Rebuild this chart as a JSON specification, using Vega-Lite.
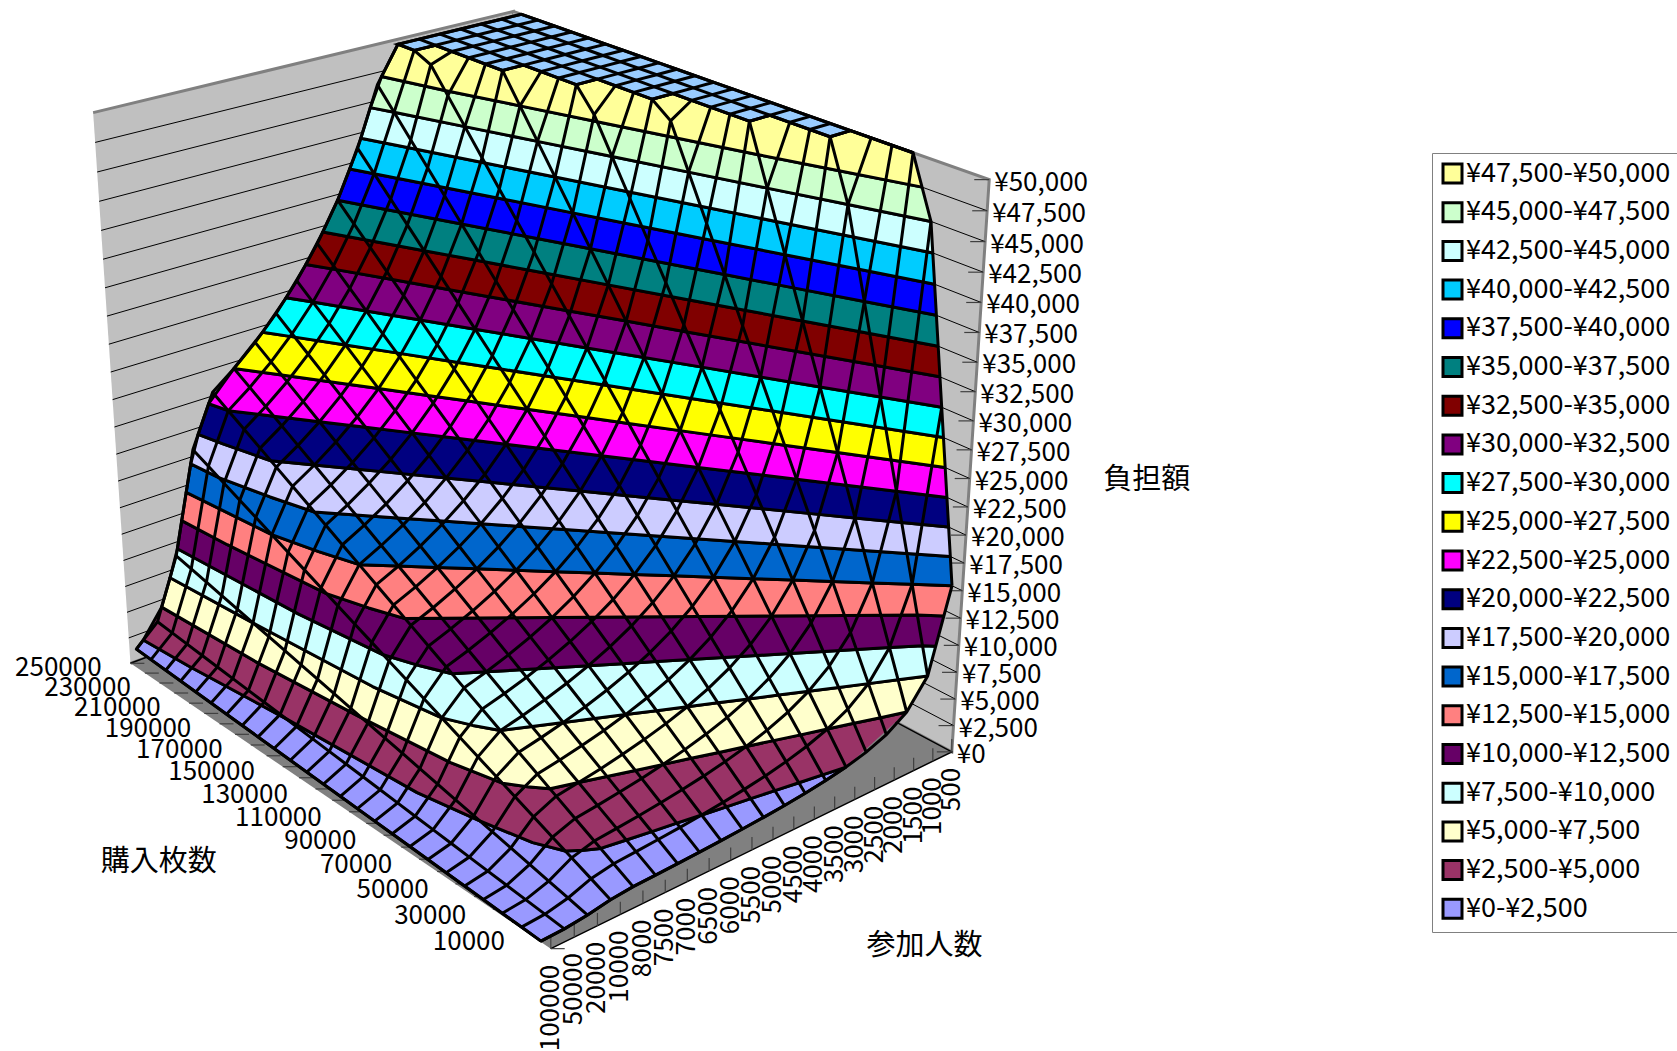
{"$schema":"https://vega.github.io/schema/vega-lite/v6.json","width":1677,"height":1051,"autosize":{"type":"none"},"padding":0,"background":"white","config":{"view":{"stroke":null},"text":{"font":"Noto Sans CJK JP","fontSize":26,"fill":"black"}},
"datasets":{
"walls":[{"panel":"left","corner":1,"col":0,"row":24.5,"burden":0},{"panel":"left","corner":2,"col":19,"row":24.5,"burden":0},{"panel":"left","corner":3,"col":19,"row":24.5,"burden":50000},{"panel":"left","corner":4,"col":0,"row":24.5,"burden":50000},{"panel":"right","corner":1,"col":19,"row":24.5,"burden":0},{"panel":"right","corner":2,"col":19,"row":-0.5,"burden":0},{"panel":"right","corner":3,"col":19,"row":-0.5,"burden":50000},{"panel":"right","corner":4,"col":19,"row":24.5,"burden":50000},{"panel":"floor","corner":1,"col":0,"row":-0.5,"burden":0},{"panel":"floor","corner":2,"col":19,"row":-0.5,"burden":0},{"panel":"floor","corner":3,"col":19,"row":24.5,"burden":0},{"panel":"floor","corner":4,"col":0,"row":24.5,"burden":0}],
"grid":[{"burden":0,"col":0,"row":24.5},{"burden":0,"col":19,"row":24.5},{"burden":0,"col":19,"row":-0.5},{"burden":2500,"col":0,"row":24.5},{"burden":2500,"col":19,"row":24.5},{"burden":2500,"col":19,"row":-0.5},{"burden":5000,"col":0,"row":24.5},{"burden":5000,"col":19,"row":24.5},{"burden":5000,"col":19,"row":-0.5},{"burden":7500,"col":0,"row":24.5},{"burden":7500,"col":19,"row":24.5},{"burden":7500,"col":19,"row":-0.5},{"burden":10000,"col":0,"row":24.5},{"burden":10000,"col":19,"row":24.5},{"burden":10000,"col":19,"row":-0.5},{"burden":12500,"col":0,"row":24.5},{"burden":12500,"col":19,"row":24.5},{"burden":12500,"col":19,"row":-0.5},{"burden":15000,"col":0,"row":24.5},{"burden":15000,"col":19,"row":24.5},{"burden":15000,"col":19,"row":-0.5},{"burden":17500,"col":0,"row":24.5},{"burden":17500,"col":19,"row":24.5},{"burden":17500,"col":19,"row":-0.5},{"burden":20000,"col":0,"row":24.5},{"burden":20000,"col":19,"row":24.5},{"burden":20000,"col":19,"row":-0.5},{"burden":22500,"col":0,"row":24.5},{"burden":22500,"col":19,"row":24.5},{"burden":22500,"col":19,"row":-0.5},{"burden":25000,"col":0,"row":24.5},{"burden":25000,"col":19,"row":24.5},{"burden":25000,"col":19,"row":-0.5},{"burden":27500,"col":0,"row":24.5},{"burden":27500,"col":19,"row":24.5},{"burden":27500,"col":19,"row":-0.5},{"burden":30000,"col":0,"row":24.5},{"burden":30000,"col":19,"row":24.5},{"burden":30000,"col":19,"row":-0.5},{"burden":32500,"col":0,"row":24.5},{"burden":32500,"col":19,"row":24.5},{"burden":32500,"col":19,"row":-0.5},{"burden":35000,"col":0,"row":24.5},{"burden":35000,"col":19,"row":24.5},{"burden":35000,"col":19,"row":-0.5},{"burden":37500,"col":0,"row":24.5},{"burden":37500,"col":19,"row":24.5},{"burden":37500,"col":19,"row":-0.5},{"burden":40000,"col":0,"row":24.5},{"burden":40000,"col":19,"row":24.5},{"burden":40000,"col":19,"row":-0.5},{"burden":42500,"col":0,"row":24.5},{"burden":42500,"col":19,"row":24.5},{"burden":42500,"col":19,"row":-0.5},{"burden":45000,"col":0,"row":24.5},{"burden":45000,"col":19,"row":24.5},{"burden":45000,"col":19,"row":-0.5},{"burden":47500,"col":0,"row":24.5},{"burden":47500,"col":19,"row":24.5},{"burden":47500,"col":19,"row":-0.5},{"burden":50000,"col":0,"row":24.5},{"burden":50000,"col":19,"row":24.5},{"burden":50000,"col":19,"row":-0.5}],
"sideTicks":[{"col":0,"row":-0.5,"burden":0},{"col":0,"row":0.5,"burden":0},{"col":0,"row":1.5,"burden":0},{"col":0,"row":2.5,"burden":0},{"col":0,"row":3.5,"burden":0},{"col":0,"row":4.5,"burden":0},{"col":0,"row":5.5,"burden":0},{"col":0,"row":6.5,"burden":0},{"col":0,"row":7.5,"burden":0},{"col":0,"row":8.5,"burden":0},{"col":0,"row":9.5,"burden":0},{"col":0,"row":10.5,"burden":0},{"col":0,"row":11.5,"burden":0},{"col":0,"row":12.5,"burden":0},{"col":0,"row":13.5,"burden":0},{"col":0,"row":14.5,"burden":0},{"col":0,"row":15.5,"burden":0},{"col":0,"row":16.5,"burden":0},{"col":0,"row":17.5,"burden":0},{"col":0,"row":18.5,"burden":0},{"col":0,"row":19.5,"burden":0},{"col":0,"row":20.5,"burden":0},{"col":0,"row":21.5,"burden":0},{"col":0,"row":22.5,"burden":0},{"col":0,"row":23.5,"burden":0},{"col":0,"row":24.5,"burden":0}],
"front":[{"label":"100000","col":0,"row":-0.5,"burden":0},{"label":"50000","col":1,"row":-0.5,"burden":0},{"label":"20000","col":2,"row":-0.5,"burden":0},{"label":"10000","col":3,"row":-0.5,"burden":0},{"label":"8000","col":4,"row":-0.5,"burden":0},{"label":"7500","col":5,"row":-0.5,"burden":0},{"label":"7000","col":6,"row":-0.5,"burden":0},{"label":"6500","col":7,"row":-0.5,"burden":0},{"label":"6000","col":8,"row":-0.5,"burden":0},{"label":"5500","col":9,"row":-0.5,"burden":0},{"label":"5000","col":10,"row":-0.5,"burden":0},{"label":"4500","col":11,"row":-0.5,"burden":0},{"label":"4000","col":12,"row":-0.5,"burden":0},{"label":"3500","col":13,"row":-0.5,"burden":0},{"label":"3000","col":14,"row":-0.5,"burden":0},{"label":"2500","col":15,"row":-0.5,"burden":0},{"label":"2000","col":16,"row":-0.5,"burden":0},{"label":"1500","col":17,"row":-0.5,"burden":0},{"label":"1000","col":18,"row":-0.5,"burden":0},{"label":"500","col":19,"row":-0.5,"burden":0}],
"side":[{"label":"250000","col":0,"row":24,"burden":0},{"label":"230000","col":0,"row":22,"burden":0},{"label":"210000","col":0,"row":20,"burden":0},{"label":"190000","col":0,"row":18,"burden":0},{"label":"170000","col":0,"row":16,"burden":0},{"label":"150000","col":0,"row":14,"burden":0},{"label":"130000","col":0,"row":12,"burden":0},{"label":"110000","col":0,"row":10,"burden":0},{"label":"90000","col":0,"row":8,"burden":0},{"label":"70000","col":0,"row":6,"burden":0},{"label":"50000","col":0,"row":4,"burden":0},{"label":"30000","col":0,"row":2,"burden":0},{"label":"10000","col":0,"row":0,"burden":0}],
"contours":[
{"iso":0,"col":0,"row":24,"burden":1875},{"iso":0,"col":0,"row":0,"burden":75},{"iso":0,"col":1,"row":0,"burden":150},{"iso":0,"col":2,"row":0,"burden":375},{"iso":0,"col":3,"row":0,"burden":750},{"iso":0,"col":4,"row":0,"burden":938},{"iso":0,"col":5,"row":0,"burden":1000},{"iso":0,"col":6,"row":0,"burden":1071},{"iso":0,"col":7,"row":0,"burden":1154},{"iso":0,"col":8,"row":0,"burden":1250},{"iso":0,"col":9,"row":0,"burden":1364},{"iso":0,"col":10,"row":0,"burden":1500},{"iso":0,"col":11,"row":0,"burden":1667},{"iso":0,"col":12,"row":0,"burden":1875},{"iso":0,"col":13,"row":0,"burden":2143},{"iso":0,"col":14,"row":0,"burden":2500},
{"iso":2500,"col":0.33,"row":24},{"iso":2500,"col":0.5,"row":21.22},{"iso":2500,"col":1,"row":15.67},{"iso":2500,"col":1.5,"row":8.52},{"iso":2500,"col":2,"row":5.67},{"iso":2500,"col":2.5,"row":3.44},{"iso":2500,"col":3,"row":2.33},{"iso":2500,"col":3.5,"row":1.96},{"iso":2500,"col":4,"row":1.67},{"iso":2500,"col":5,"row":1.5},{"iso":2500,"col":6,"row":1.33},{"iso":2500,"col":7,"row":1.17},{"iso":2500,"col":8,"row":1},{"iso":2500,"col":9,"row":0.83},{"iso":2500,"col":10,"row":0.67},{"iso":2500,"col":11,"row":0.5},{"iso":2500,"col":12,"row":0.33},{"iso":2500,"col":13,"row":0.17},{"iso":2500,"col":14,"row":0},
{"iso":5000,"col":1.22,"row":24},{"iso":5000,"col":1.5,"row":18.05},{"iso":5000,"col":2,"row":12.33},{"iso":5000,"col":2.5,"row":7.89},{"iso":5000,"col":3,"row":5.67},{"iso":5000,"col":3.5,"row":4.93},{"iso":5000,"col":4,"row":4.33},{"iso":5000,"col":5,"row":4},{"iso":5000,"col":6,"row":3.67},{"iso":5000,"col":7,"row":3.33},{"iso":5000,"col":8,"row":3},{"iso":5000,"col":9,"row":2.67},{"iso":5000,"col":10,"row":2.33},{"iso":5000,"col":11,"row":2},{"iso":5000,"col":12,"row":1.67},{"iso":5000,"col":13,"row":1.33},{"iso":5000,"col":14,"row":1},{"iso":5000,"col":15,"row":0.67},{"iso":5000,"col":16,"row":0.33},{"iso":5000,"col":17,"row":0},
{"iso":7500,"col":1.67,"row":24},{"iso":7500,"col":2,"row":19},{"iso":7500,"col":2.5,"row":12.33},{"iso":7500,"col":3,"row":9},{"iso":7500,"col":3.5,"row":7.89},{"iso":7500,"col":4,"row":7},{"iso":7500,"col":5,"row":6.5},{"iso":7500,"col":6,"row":6},{"iso":7500,"col":7,"row":5.5},{"iso":7500,"col":8,"row":5},{"iso":7500,"col":9,"row":4.5},{"iso":7500,"col":10,"row":4},{"iso":7500,"col":11,"row":3.5},{"iso":7500,"col":12,"row":3},{"iso":7500,"col":13,"row":2.5},{"iso":7500,"col":14,"row":2},{"iso":7500,"col":15,"row":1.5},{"iso":7500,"col":16,"row":1},{"iso":7500,"col":17,"row":0.5},{"iso":7500,"col":18,"row":0},
{"iso":10000,"col":2.07,"row":24},{"iso":10000,"col":2.5,"row":16.78},{"iso":10000,"col":3,"row":12.33},{"iso":10000,"col":3.5,"row":10.85},{"iso":10000,"col":4,"row":9.67},{"iso":10000,"col":5,"row":9},{"iso":10000,"col":6,"row":8.33},{"iso":10000,"col":7,"row":7.67},{"iso":10000,"col":8,"row":7},{"iso":10000,"col":9,"row":6.33},{"iso":10000,"col":10,"row":5.67},{"iso":10000,"col":11,"row":5},{"iso":10000,"col":12,"row":4.33},{"iso":10000,"col":13,"row":3.67},{"iso":10000,"col":14,"row":3},{"iso":10000,"col":15,"row":2.33},{"iso":10000,"col":16,"row":1.67},{"iso":10000,"col":17,"row":1},{"iso":10000,"col":18,"row":0.33},{"iso":10000,"col":18.33,"row":0},
{"iso":12500,"col":2.33,"row":24},{"iso":12500,"col":2.5,"row":21.22},{"iso":12500,"col":3,"row":15.67},{"iso":12500,"col":3.5,"row":13.81},{"iso":12500,"col":4,"row":12.33},{"iso":12500,"col":5,"row":11.5},{"iso":12500,"col":6,"row":10.67},{"iso":12500,"col":7,"row":9.83},{"iso":12500,"col":8,"row":9},{"iso":12500,"col":9,"row":8.17},{"iso":12500,"col":10,"row":7.33},{"iso":12500,"col":11,"row":6.5},{"iso":12500,"col":12,"row":5.67},{"iso":12500,"col":13,"row":4.83},{"iso":12500,"col":14,"row":4},{"iso":12500,"col":15,"row":3.17},{"iso":12500,"col":16,"row":2.33},{"iso":12500,"col":17,"row":1.5},{"iso":12500,"col":18,"row":0.67},{"iso":12500,"col":18.67,"row":0},
{"iso":15000,"col":2.6,"row":24},{"iso":15000,"col":3,"row":19},{"iso":15000,"col":3.5,"row":16.78},{"iso":15000,"col":4,"row":15},{"iso":15000,"col":5,"row":14},{"iso":15000,"col":6,"row":13},{"iso":15000,"col":7,"row":12},{"iso":15000,"col":8,"row":11},{"iso":15000,"col":9,"row":10},{"iso":15000,"col":10,"row":9},{"iso":15000,"col":11,"row":8},{"iso":15000,"col":12,"row":7},{"iso":15000,"col":13,"row":6},{"iso":15000,"col":14,"row":5},{"iso":15000,"col":15,"row":4},{"iso":15000,"col":16,"row":3},{"iso":15000,"col":17,"row":2},{"iso":15000,"col":18,"row":1},{"iso":15000,"col":19,"row":0},
{"iso":17500,"col":2.87,"row":24},{"iso":17500,"col":3,"row":22.33},{"iso":17500,"col":3.5,"row":19.74},{"iso":17500,"col":4,"row":17.67},{"iso":17500,"col":5,"row":16.5},{"iso":17500,"col":6,"row":15.33},{"iso":17500,"col":7,"row":14.17},{"iso":17500,"col":8,"row":13},{"iso":17500,"col":9,"row":11.83},{"iso":17500,"col":10,"row":10.67},{"iso":17500,"col":11,"row":9.5},{"iso":17500,"col":12,"row":8.33},{"iso":17500,"col":13,"row":7.17},{"iso":17500,"col":14,"row":6},{"iso":17500,"col":15,"row":4.83},{"iso":17500,"col":16,"row":3.67},{"iso":17500,"col":17,"row":2.5},{"iso":17500,"col":18,"row":1.33},{"iso":17500,"col":19,"row":0.17},
{"iso":20000,"col":3.27,"row":24},{"iso":20000,"col":3.5,"row":22.7},{"iso":20000,"col":4,"row":20.33},{"iso":20000,"col":5,"row":19},{"iso":20000,"col":6,"row":17.67},{"iso":20000,"col":7,"row":16.33},{"iso":20000,"col":8,"row":15},{"iso":20000,"col":9,"row":13.67},{"iso":20000,"col":10,"row":12.33},{"iso":20000,"col":11,"row":11},{"iso":20000,"col":12,"row":9.67},{"iso":20000,"col":13,"row":8.33},{"iso":20000,"col":14,"row":7},{"iso":20000,"col":15,"row":5.67},{"iso":20000,"col":16,"row":4.33},{"iso":20000,"col":17,"row":3},{"iso":20000,"col":18,"row":1.67},{"iso":20000,"col":19,"row":0.33},
{"iso":22500,"col":3.8,"row":24},{"iso":22500,"col":4,"row":23},{"iso":22500,"col":5,"row":21.5},{"iso":22500,"col":6,"row":20},{"iso":22500,"col":7,"row":18.5},{"iso":22500,"col":8,"row":17},{"iso":22500,"col":9,"row":15.5},{"iso":22500,"col":10,"row":14},{"iso":22500,"col":11,"row":12.5},{"iso":22500,"col":12,"row":11},{"iso":22500,"col":13,"row":9.5},{"iso":22500,"col":14,"row":8},{"iso":22500,"col":15,"row":6.5},{"iso":22500,"col":16,"row":5},{"iso":22500,"col":17,"row":3.5},{"iso":22500,"col":18,"row":2},{"iso":22500,"col":19,"row":0.5},
{"iso":25000,"col":5,"row":24},{"iso":25000,"col":6,"row":22.33},{"iso":25000,"col":7,"row":20.67},{"iso":25000,"col":8,"row":19},{"iso":25000,"col":9,"row":17.33},{"iso":25000,"col":10,"row":15.67},{"iso":25000,"col":11,"row":14},{"iso":25000,"col":12,"row":12.33},{"iso":25000,"col":13,"row":10.67},{"iso":25000,"col":14,"row":9},{"iso":25000,"col":15,"row":7.33},{"iso":25000,"col":16,"row":5.67},{"iso":25000,"col":17,"row":4},{"iso":25000,"col":18,"row":2.33},{"iso":25000,"col":19,"row":0.67},
{"iso":27500,"col":6.35,"row":24},{"iso":27500,"col":7,"row":22.83},{"iso":27500,"col":8,"row":21},{"iso":27500,"col":9,"row":19.17},{"iso":27500,"col":10,"row":17.33},{"iso":27500,"col":11,"row":15.5},{"iso":27500,"col":12,"row":13.67},{"iso":27500,"col":13,"row":11.83},{"iso":27500,"col":14,"row":10},{"iso":27500,"col":15,"row":8.17},{"iso":27500,"col":16,"row":6.33},{"iso":27500,"col":17,"row":4.5},{"iso":27500,"col":18,"row":2.67},{"iso":27500,"col":19,"row":0.83},
{"iso":30000,"col":7.48,"row":24},{"iso":30000,"col":8,"row":23},{"iso":30000,"col":9,"row":21},{"iso":30000,"col":10,"row":19},{"iso":30000,"col":11,"row":17},{"iso":30000,"col":12,"row":15},{"iso":30000,"col":13,"row":13},{"iso":30000,"col":14,"row":11},{"iso":30000,"col":15,"row":9},{"iso":30000,"col":16,"row":7},{"iso":30000,"col":17,"row":5},{"iso":30000,"col":18,"row":3},{"iso":30000,"col":19,"row":1},
{"iso":32500,"col":8.44,"row":24},{"iso":32500,"col":9,"row":22.83},{"iso":32500,"col":10,"row":20.67},{"iso":32500,"col":11,"row":18.5},{"iso":32500,"col":12,"row":16.33},{"iso":32500,"col":13,"row":14.17},{"iso":32500,"col":14,"row":12},{"iso":32500,"col":15,"row":9.83},{"iso":32500,"col":16,"row":7.67},{"iso":32500,"col":17,"row":5.5},{"iso":32500,"col":18,"row":3.33},{"iso":32500,"col":19,"row":1.17},
{"iso":35000,"col":9.27,"row":24},{"iso":35000,"col":10,"row":22.33},{"iso":35000,"col":11,"row":20},{"iso":35000,"col":12,"row":17.67},{"iso":35000,"col":13,"row":15.33},{"iso":35000,"col":14,"row":13},{"iso":35000,"col":15,"row":10.67},{"iso":35000,"col":16,"row":8.33},{"iso":35000,"col":17,"row":6},{"iso":35000,"col":18,"row":3.67},{"iso":35000,"col":19,"row":1.33},
{"iso":37500,"col":10,"row":24},{"iso":37500,"col":11,"row":21.5},{"iso":37500,"col":12,"row":19},{"iso":37500,"col":13,"row":16.5},{"iso":37500,"col":14,"row":14},{"iso":37500,"col":15,"row":11.5},{"iso":37500,"col":16,"row":9},{"iso":37500,"col":17,"row":6.5},{"iso":37500,"col":18,"row":4},{"iso":37500,"col":19,"row":1.5},
{"iso":40000,"col":10.6,"row":24},{"iso":40000,"col":11,"row":23},{"iso":40000,"col":12,"row":20.33},{"iso":40000,"col":13,"row":17.67},{"iso":40000,"col":14,"row":15},{"iso":40000,"col":15,"row":12.33},{"iso":40000,"col":16,"row":9.67},{"iso":40000,"col":17,"row":7},{"iso":40000,"col":18,"row":4.33},{"iso":40000,"col":19,"row":1.67},
{"iso":42500,"col":11.16,"row":24},{"iso":42500,"col":12,"row":21.67},{"iso":42500,"col":13,"row":18.83},{"iso":42500,"col":14,"row":16},{"iso":42500,"col":15,"row":13.17},{"iso":42500,"col":16,"row":10.33},{"iso":42500,"col":17,"row":7.5},{"iso":42500,"col":18,"row":4.67},{"iso":42500,"col":19,"row":1.83},
{"iso":45000,"col":11.64,"row":24},{"iso":45000,"col":12,"row":23},{"iso":45000,"col":13,"row":20},{"iso":45000,"col":14,"row":17},{"iso":45000,"col":15,"row":14},{"iso":45000,"col":16,"row":11},{"iso":45000,"col":17,"row":8},{"iso":45000,"col":18,"row":5},{"iso":45000,"col":19,"row":2},
{"iso":47500,"col":12.2,"row":24},{"iso":47500,"col":13,"row":21.17},{"iso":47500,"col":14,"row":18},{"iso":47500,"col":15,"row":14.83},{"iso":47500,"col":16,"row":11.67},{"iso":47500,"col":17,"row":8.5},{"iso":47500,"col":18,"row":5.5},{"iso":47500,"col":19,"row":2.5},
{"iso":50000,"col":13,"row":24},{"iso":50000,"col":13,"row":23},{"iso":50000,"col":14,"row":23},{"iso":50000,"col":14,"row":19},{"iso":50000,"col":15,"row":19},{"iso":50000,"col":15,"row":16},{"iso":50000,"col":16,"row":16},{"iso":50000,"col":16,"row":13},{"iso":50000,"col":17,"row":13},{"iso":50000,"col":17,"row":9},{"iso":50000,"col":18,"row":9},{"iso":50000,"col":18,"row":6},{"iso":50000,"col":19,"row":6},{"iso":50000,"col":19,"row":3},
{"iso":52500,"col":13,"row":24,"burden":50000},{"iso":52500,"col":19,"row":24,"burden":50000},{"iso":52500,"col":19,"row":3,"burden":50000}],
"mesh":[
{"col":0,"row":0,"burden":75},{"col":0,"row":1,"burden":150},{"col":0,"row":2,"burden":225},{"col":0,"row":3,"burden":300},{"col":0,"row":4,"burden":375},{"col":0,"row":5,"burden":450},{"col":0,"row":6,"burden":525},{"col":0,"row":7,"burden":600},{"col":0,"row":8,"burden":675},{"col":0,"row":9,"burden":750},{"col":0,"row":10,"burden":825},{"col":0,"row":11,"burden":900},{"col":0,"row":12,"burden":975},{"col":0,"row":13,"burden":1050},{"col":0,"row":14,"burden":1125},{"col":0,"row":15,"burden":1200},{"col":0,"row":16,"burden":1275},{"col":0,"row":17,"burden":1350},{"col":0,"row":18,"burden":1425},{"col":0,"row":19,"burden":1500},{"col":0,"row":20,"burden":1575},{"col":0,"row":21,"burden":1650},{"col":0,"row":22,"burden":1725},{"col":0,"row":23,"burden":1800},{"col":0,"row":24,"burden":1875},
{"col":1,"row":0,"burden":150},{"col":1,"row":1,"burden":300},{"col":1,"row":2,"burden":450},{"col":1,"row":3,"burden":600},{"col":1,"row":4,"burden":750},{"col":1,"row":5,"burden":900},{"col":1,"row":6,"burden":1050},{"col":1,"row":7,"burden":1200},{"col":1,"row":8,"burden":1350},{"col":1,"row":9,"burden":1500},{"col":1,"row":10,"burden":1650},{"col":1,"row":11,"burden":1800},{"col":1,"row":12,"burden":1950},{"col":1,"row":13,"burden":2100},{"col":1,"row":14,"burden":2250},{"col":1,"row":15,"burden":2400},{"col":1,"row":16,"burden":2550},{"col":1,"row":17,"burden":2700},{"col":1,"row":18,"burden":2850},{"col":1,"row":19,"burden":3000},{"col":1,"row":20,"burden":3150},{"col":1,"row":21,"burden":3300},{"col":1,"row":22,"burden":3450},{"col":1,"row":23,"burden":3600},{"col":1,"row":24,"burden":3750},
{"col":2,"row":0,"burden":375},{"col":2,"row":1,"burden":750},{"col":2,"row":2,"burden":1125},{"col":2,"row":3,"burden":1500},{"col":2,"row":4,"burden":1875},{"col":2,"row":5,"burden":2250},{"col":2,"row":6,"burden":2625},{"col":2,"row":7,"burden":3000},{"col":2,"row":8,"burden":3375},{"col":2,"row":9,"burden":3750},{"col":2,"row":10,"burden":4125},{"col":2,"row":11,"burden":4500},{"col":2,"row":12,"burden":4875},{"col":2,"row":13,"burden":5250},{"col":2,"row":14,"burden":5625},{"col":2,"row":15,"burden":6000},{"col":2,"row":16,"burden":6375},{"col":2,"row":17,"burden":6750},{"col":2,"row":18,"burden":7125},{"col":2,"row":19,"burden":7500},{"col":2,"row":20,"burden":7875},{"col":2,"row":21,"burden":8250},{"col":2,"row":22,"burden":8625},{"col":2,"row":23,"burden":9000},{"col":2,"row":24,"burden":9375},
{"col":3,"row":0,"burden":750},{"col":3,"row":1,"burden":1500},{"col":3,"row":2,"burden":2250},{"col":3,"row":3,"burden":3000},{"col":3,"row":4,"burden":3750},{"col":3,"row":5,"burden":4500},{"col":3,"row":6,"burden":5250},{"col":3,"row":7,"burden":6000},{"col":3,"row":8,"burden":6750},{"col":3,"row":9,"burden":7500},{"col":3,"row":10,"burden":8250},{"col":3,"row":11,"burden":9000},{"col":3,"row":12,"burden":9750},{"col":3,"row":13,"burden":10500},{"col":3,"row":14,"burden":11250},{"col":3,"row":15,"burden":12000},{"col":3,"row":16,"burden":12750},{"col":3,"row":17,"burden":13500},{"col":3,"row":18,"burden":14250},{"col":3,"row":19,"burden":15000},{"col":3,"row":20,"burden":15750},{"col":3,"row":21,"burden":16500},{"col":3,"row":22,"burden":17250},{"col":3,"row":23,"burden":18000},{"col":3,"row":24,"burden":18750},
{"col":4,"row":0,"burden":938},{"col":4,"row":1,"burden":1875},{"col":4,"row":2,"burden":2813},{"col":4,"row":3,"burden":3750},{"col":4,"row":4,"burden":4688},{"col":4,"row":5,"burden":5625},{"col":4,"row":6,"burden":6563},{"col":4,"row":7,"burden":7500},{"col":4,"row":8,"burden":8438},{"col":4,"row":9,"burden":9375},{"col":4,"row":10,"burden":10313},{"col":4,"row":11,"burden":11250},{"col":4,"row":12,"burden":12188},{"col":4,"row":13,"burden":13125},{"col":4,"row":14,"burden":14063},{"col":4,"row":15,"burden":15000},{"col":4,"row":16,"burden":15938},{"col":4,"row":17,"burden":16875},{"col":4,"row":18,"burden":17813},{"col":4,"row":19,"burden":18750},{"col":4,"row":20,"burden":19688},{"col":4,"row":21,"burden":20625},{"col":4,"row":22,"burden":21563},{"col":4,"row":23,"burden":22500},{"col":4,"row":24,"burden":23438},
{"col":5,"row":0,"burden":1000},{"col":5,"row":1,"burden":2000},{"col":5,"row":2,"burden":3000},{"col":5,"row":3,"burden":4000},{"col":5,"row":4,"burden":5000},{"col":5,"row":5,"burden":6000},{"col":5,"row":6,"burden":7000},{"col":5,"row":7,"burden":8000},{"col":5,"row":8,"burden":9000},{"col":5,"row":9,"burden":10000},{"col":5,"row":10,"burden":11000},{"col":5,"row":11,"burden":12000},{"col":5,"row":12,"burden":13000},{"col":5,"row":13,"burden":14000},{"col":5,"row":14,"burden":15000},{"col":5,"row":15,"burden":16000},{"col":5,"row":16,"burden":17000},{"col":5,"row":17,"burden":18000},{"col":5,"row":18,"burden":19000},{"col":5,"row":19,"burden":20000},{"col":5,"row":20,"burden":21000},{"col":5,"row":21,"burden":22000},{"col":5,"row":22,"burden":23000},{"col":5,"row":23,"burden":24000},{"col":5,"row":24,"burden":25000},
{"col":6,"row":0,"burden":1071},{"col":6,"row":1,"burden":2143},{"col":6,"row":2,"burden":3214},{"col":6,"row":3,"burden":4286},{"col":6,"row":4,"burden":5357},{"col":6,"row":5,"burden":6429},{"col":6,"row":6,"burden":7500},{"col":6,"row":7,"burden":8571},{"col":6,"row":8,"burden":9643},{"col":6,"row":9,"burden":10714},{"col":6,"row":10,"burden":11786},{"col":6,"row":11,"burden":12857},{"col":6,"row":12,"burden":13929},{"col":6,"row":13,"burden":15000},{"col":6,"row":14,"burden":16071},{"col":6,"row":15,"burden":17143},{"col":6,"row":16,"burden":18214},{"col":6,"row":17,"burden":19286},{"col":6,"row":18,"burden":20357},{"col":6,"row":19,"burden":21429},{"col":6,"row":20,"burden":22500},{"col":6,"row":21,"burden":23571},{"col":6,"row":22,"burden":24643},{"col":6,"row":23,"burden":25714},{"col":6,"row":24,"burden":26786},
{"col":7,"row":0,"burden":1154},{"col":7,"row":1,"burden":2308},{"col":7,"row":2,"burden":3462},{"col":7,"row":3,"burden":4615},{"col":7,"row":4,"burden":5769},{"col":7,"row":5,"burden":6923},{"col":7,"row":6,"burden":8077},{"col":7,"row":7,"burden":9231},{"col":7,"row":8,"burden":10385},{"col":7,"row":9,"burden":11538},{"col":7,"row":10,"burden":12692},{"col":7,"row":11,"burden":13846},{"col":7,"row":12,"burden":15000},{"col":7,"row":13,"burden":16154},{"col":7,"row":14,"burden":17308},{"col":7,"row":15,"burden":18462},{"col":7,"row":16,"burden":19615},{"col":7,"row":17,"burden":20769},{"col":7,"row":18,"burden":21923},{"col":7,"row":19,"burden":23077},{"col":7,"row":20,"burden":24231},{"col":7,"row":21,"burden":25385},{"col":7,"row":22,"burden":26538},{"col":7,"row":23,"burden":27692},{"col":7,"row":24,"burden":28846},
{"col":8,"row":0,"burden":1250},{"col":8,"row":1,"burden":2500},{"col":8,"row":2,"burden":3750},{"col":8,"row":3,"burden":5000},{"col":8,"row":4,"burden":6250},{"col":8,"row":5,"burden":7500},{"col":8,"row":6,"burden":8750},{"col":8,"row":7,"burden":10000},{"col":8,"row":8,"burden":11250},{"col":8,"row":9,"burden":12500},{"col":8,"row":10,"burden":13750},{"col":8,"row":11,"burden":15000},{"col":8,"row":12,"burden":16250},{"col":8,"row":13,"burden":17500},{"col":8,"row":14,"burden":18750},{"col":8,"row":15,"burden":20000},{"col":8,"row":16,"burden":21250},{"col":8,"row":17,"burden":22500},{"col":8,"row":18,"burden":23750},{"col":8,"row":19,"burden":25000},{"col":8,"row":20,"burden":26250},{"col":8,"row":21,"burden":27500},{"col":8,"row":22,"burden":28750},{"col":8,"row":23,"burden":30000},{"col":8,"row":24,"burden":31250},
{"col":9,"row":0,"burden":1364},{"col":9,"row":1,"burden":2727},{"col":9,"row":2,"burden":4091},{"col":9,"row":3,"burden":5455},{"col":9,"row":4,"burden":6818},{"col":9,"row":5,"burden":8182},{"col":9,"row":6,"burden":9545},{"col":9,"row":7,"burden":10909},{"col":9,"row":8,"burden":12273},{"col":9,"row":9,"burden":13636},{"col":9,"row":10,"burden":15000},{"col":9,"row":11,"burden":16364},{"col":9,"row":12,"burden":17727},{"col":9,"row":13,"burden":19091},{"col":9,"row":14,"burden":20455},{"col":9,"row":15,"burden":21818},{"col":9,"row":16,"burden":23182},{"col":9,"row":17,"burden":24545},{"col":9,"row":18,"burden":25909},{"col":9,"row":19,"burden":27273},{"col":9,"row":20,"burden":28636},{"col":9,"row":21,"burden":30000},{"col":9,"row":22,"burden":31364},{"col":9,"row":23,"burden":32727},{"col":9,"row":24,"burden":34091},
{"col":10,"row":0,"burden":1500},{"col":10,"row":1,"burden":3000},{"col":10,"row":2,"burden":4500},{"col":10,"row":3,"burden":6000},{"col":10,"row":4,"burden":7500},{"col":10,"row":5,"burden":9000},{"col":10,"row":6,"burden":10500},{"col":10,"row":7,"burden":12000},{"col":10,"row":8,"burden":13500},{"col":10,"row":9,"burden":15000},{"col":10,"row":10,"burden":16500},{"col":10,"row":11,"burden":18000},{"col":10,"row":12,"burden":19500},{"col":10,"row":13,"burden":21000},{"col":10,"row":14,"burden":22500},{"col":10,"row":15,"burden":24000},{"col":10,"row":16,"burden":25500},{"col":10,"row":17,"burden":27000},{"col":10,"row":18,"burden":28500},{"col":10,"row":19,"burden":30000},{"col":10,"row":20,"burden":31500},{"col":10,"row":21,"burden":33000},{"col":10,"row":22,"burden":34500},{"col":10,"row":23,"burden":36000},{"col":10,"row":24,"burden":37500},
{"col":11,"row":0,"burden":1667},{"col":11,"row":1,"burden":3333},{"col":11,"row":2,"burden":5000},{"col":11,"row":3,"burden":6667},{"col":11,"row":4,"burden":8333},{"col":11,"row":5,"burden":10000},{"col":11,"row":6,"burden":11667},{"col":11,"row":7,"burden":13333},{"col":11,"row":8,"burden":15000},{"col":11,"row":9,"burden":16667},{"col":11,"row":10,"burden":18333},{"col":11,"row":11,"burden":20000},{"col":11,"row":12,"burden":21667},{"col":11,"row":13,"burden":23333},{"col":11,"row":14,"burden":25000},{"col":11,"row":15,"burden":26667},{"col":11,"row":16,"burden":28333},{"col":11,"row":17,"burden":30000},{"col":11,"row":18,"burden":31667},{"col":11,"row":19,"burden":33333},{"col":11,"row":20,"burden":35000},{"col":11,"row":21,"burden":36667},{"col":11,"row":22,"burden":38333},{"col":11,"row":23,"burden":40000},{"col":11,"row":24,"burden":41667},
{"col":12,"row":0,"burden":1875},{"col":12,"row":1,"burden":3750},{"col":12,"row":2,"burden":5625},{"col":12,"row":3,"burden":7500},{"col":12,"row":4,"burden":9375},{"col":12,"row":5,"burden":11250},{"col":12,"row":6,"burden":13125},{"col":12,"row":7,"burden":15000},{"col":12,"row":8,"burden":16875},{"col":12,"row":9,"burden":18750},{"col":12,"row":10,"burden":20625},{"col":12,"row":11,"burden":22500},{"col":12,"row":12,"burden":24375},{"col":12,"row":13,"burden":26250},{"col":12,"row":14,"burden":28125},{"col":12,"row":15,"burden":30000},{"col":12,"row":16,"burden":31875},{"col":12,"row":17,"burden":33750},{"col":12,"row":18,"burden":35625},{"col":12,"row":19,"burden":37500},{"col":12,"row":20,"burden":39375},{"col":12,"row":21,"burden":41250},{"col":12,"row":22,"burden":43125},{"col":12,"row":23,"burden":45000},{"col":12,"row":24,"burden":46875},
{"col":13,"row":0,"burden":2143},{"col":13,"row":1,"burden":4286},{"col":13,"row":2,"burden":6429},{"col":13,"row":3,"burden":8571},{"col":13,"row":4,"burden":10714},{"col":13,"row":5,"burden":12857},{"col":13,"row":6,"burden":15000},{"col":13,"row":7,"burden":17143},{"col":13,"row":8,"burden":19286},{"col":13,"row":9,"burden":21429},{"col":13,"row":10,"burden":23571},{"col":13,"row":11,"burden":25714},{"col":13,"row":12,"burden":27857},{"col":13,"row":13,"burden":30000},{"col":13,"row":14,"burden":32143},{"col":13,"row":15,"burden":34286},{"col":13,"row":16,"burden":36429},{"col":13,"row":17,"burden":38571},{"col":13,"row":18,"burden":40714},{"col":13,"row":19,"burden":42857},{"col":13,"row":20,"burden":45000},{"col":13,"row":21,"burden":47143},{"col":13,"row":22,"burden":49286},{"col":13,"row":23,"burden":50000},{"col":13,"row":24,"burden":50000},
{"col":14,"row":0,"burden":2500},{"col":14,"row":1,"burden":5000},{"col":14,"row":2,"burden":7500},{"col":14,"row":3,"burden":10000},{"col":14,"row":4,"burden":12500},{"col":14,"row":5,"burden":15000},{"col":14,"row":6,"burden":17500},{"col":14,"row":7,"burden":20000},{"col":14,"row":8,"burden":22500},{"col":14,"row":9,"burden":25000},{"col":14,"row":10,"burden":27500},{"col":14,"row":11,"burden":30000},{"col":14,"row":12,"burden":32500},{"col":14,"row":13,"burden":35000},{"col":14,"row":14,"burden":37500},{"col":14,"row":15,"burden":40000},{"col":14,"row":16,"burden":42500},{"col":14,"row":17,"burden":45000},{"col":14,"row":18,"burden":47500},{"col":14,"row":19,"burden":50000},{"col":14,"row":20,"burden":50000},{"col":14,"row":21,"burden":50000},{"col":14,"row":22,"burden":50000},{"col":14,"row":23,"burden":50000},{"col":14,"row":24,"burden":50000},
{"col":15,"row":0,"burden":3000},{"col":15,"row":1,"burden":6000},{"col":15,"row":2,"burden":9000},{"col":15,"row":3,"burden":12000},{"col":15,"row":4,"burden":15000},{"col":15,"row":5,"burden":18000},{"col":15,"row":6,"burden":21000},{"col":15,"row":7,"burden":24000},{"col":15,"row":8,"burden":27000},{"col":15,"row":9,"burden":30000},{"col":15,"row":10,"burden":33000},{"col":15,"row":11,"burden":36000},{"col":15,"row":12,"burden":39000},{"col":15,"row":13,"burden":42000},{"col":15,"row":14,"burden":45000},{"col":15,"row":15,"burden":48000},{"col":15,"row":16,"burden":50000},{"col":15,"row":17,"burden":50000},{"col":15,"row":18,"burden":50000},{"col":15,"row":19,"burden":50000},{"col":15,"row":20,"burden":50000},{"col":15,"row":21,"burden":50000},{"col":15,"row":22,"burden":50000},{"col":15,"row":23,"burden":50000},{"col":15,"row":24,"burden":50000},
{"col":16,"row":0,"burden":3750},{"col":16,"row":1,"burden":7500},{"col":16,"row":2,"burden":11250},{"col":16,"row":3,"burden":15000},{"col":16,"row":4,"burden":18750},{"col":16,"row":5,"burden":22500},{"col":16,"row":6,"burden":26250},{"col":16,"row":7,"burden":30000},{"col":16,"row":8,"burden":33750},{"col":16,"row":9,"burden":37500},{"col":16,"row":10,"burden":41250},{"col":16,"row":11,"burden":45000},{"col":16,"row":12,"burden":48750},{"col":16,"row":13,"burden":50000},{"col":16,"row":14,"burden":50000},{"col":16,"row":15,"burden":50000},{"col":16,"row":16,"burden":50000},{"col":16,"row":17,"burden":50000},{"col":16,"row":18,"burden":50000},{"col":16,"row":19,"burden":50000},{"col":16,"row":20,"burden":50000},{"col":16,"row":21,"burden":50000},{"col":16,"row":22,"burden":50000},{"col":16,"row":23,"burden":50000},{"col":16,"row":24,"burden":50000},
{"col":17,"row":0,"burden":5000},{"col":17,"row":1,"burden":10000},{"col":17,"row":2,"burden":15000},{"col":17,"row":3,"burden":20000},{"col":17,"row":4,"burden":25000},{"col":17,"row":5,"burden":30000},{"col":17,"row":6,"burden":35000},{"col":17,"row":7,"burden":40000},{"col":17,"row":8,"burden":45000},{"col":17,"row":9,"burden":50000},{"col":17,"row":10,"burden":50000},{"col":17,"row":11,"burden":50000},{"col":17,"row":12,"burden":50000},{"col":17,"row":13,"burden":50000},{"col":17,"row":14,"burden":50000},{"col":17,"row":15,"burden":50000},{"col":17,"row":16,"burden":50000},{"col":17,"row":17,"burden":50000},{"col":17,"row":18,"burden":50000},{"col":17,"row":19,"burden":50000},{"col":17,"row":20,"burden":50000},{"col":17,"row":21,"burden":50000},{"col":17,"row":22,"burden":50000},{"col":17,"row":23,"burden":50000},{"col":17,"row":24,"burden":50000},
{"col":18,"row":0,"burden":7500},{"col":18,"row":1,"burden":15000},{"col":18,"row":2,"burden":22500},{"col":18,"row":3,"burden":30000},{"col":18,"row":4,"burden":37500},{"col":18,"row":5,"burden":45000},{"col":18,"row":6,"burden":50000},{"col":18,"row":7,"burden":50000},{"col":18,"row":8,"burden":50000},{"col":18,"row":9,"burden":50000},{"col":18,"row":10,"burden":50000},{"col":18,"row":11,"burden":50000},{"col":18,"row":12,"burden":50000},{"col":18,"row":13,"burden":50000},{"col":18,"row":14,"burden":50000},{"col":18,"row":15,"burden":50000},{"col":18,"row":16,"burden":50000},{"col":18,"row":17,"burden":50000},{"col":18,"row":18,"burden":50000},{"col":18,"row":19,"burden":50000},{"col":18,"row":20,"burden":50000},{"col":18,"row":21,"burden":50000},{"col":18,"row":22,"burden":50000},{"col":18,"row":23,"burden":50000},{"col":18,"row":24,"burden":50000},
{"col":19,"row":0,"burden":15000},{"col":19,"row":1,"burden":30000},{"col":19,"row":2,"burden":45000},{"col":19,"row":3,"burden":50000},{"col":19,"row":4,"burden":50000},{"col":19,"row":5,"burden":50000},{"col":19,"row":6,"burden":50000},{"col":19,"row":7,"burden":50000},{"col":19,"row":8,"burden":50000},{"col":19,"row":9,"burden":50000},{"col":19,"row":10,"burden":50000},{"col":19,"row":11,"burden":50000},{"col":19,"row":12,"burden":50000},{"col":19,"row":13,"burden":50000},{"col":19,"row":14,"burden":50000},{"col":19,"row":15,"burden":50000},{"col":19,"row":16,"burden":50000},{"col":19,"row":17,"burden":50000},{"col":19,"row":18,"burden":50000},{"col":19,"row":19,"burden":50000},{"col":19,"row":20,"burden":50000},{"col":19,"row":21,"burden":50000},{"col":19,"row":22,"burden":50000},{"col":19,"row":23,"burden":50000},{"col":19,"row":24,"burden":50000}]
},
"encoding":{"x":{"field":"sx","type":"quantitative","axis":null,"scale":{"domain":[0,1568],"nice":false,"zero":false}},"y":{"field":"sy","type":"quantitative","axis":null,"scale":{"domain":[982.7,0],"nice":false,"zero":false}}},
"layer":[
{"data":{"name":"walls"},"transform":[{"filter":"datum.panel!='floor'"},{"calculate":"datum.col/19","as":"u"},{"calculate":"(datum.row+0.5)/25","as":"v"},{"calculate":"datum.burden/50000","as":"w"},{"calculate":"1+0.1185*datum.u+0.1738*datum.v-0.0956*datum.w","as":"d"},{"calculate":"(515+480.4*datum.u-371.8*datum.v-49.3*datum.w)/datum.d","as":"sx"},{"calculate":"(887-100.7*datum.u-159*datum.v-614.5*datum.w)/datum.d","as":"sy"}],"mark":{"type":"line","fill":"#C0C0C0","stroke":"#808080","strokeWidth":3},"encoding":{"detail":{"field":"panel"},"order":{"field":"corner","type":"quantitative"}}},
{"data":{"name":"walls"},"transform":[{"filter":"datum.panel=='floor'"},{"calculate":"datum.col/19","as":"u"},{"calculate":"(datum.row+0.5)/25","as":"v"},{"calculate":"datum.burden/50000","as":"w"},{"calculate":"1+0.1185*datum.u+0.1738*datum.v-0.0956*datum.w","as":"d"},{"calculate":"(515+480.4*datum.u-371.8*datum.v-49.3*datum.w)/datum.d","as":"sx"},{"calculate":"(887-100.7*datum.u-159*datum.v-614.5*datum.w)/datum.d","as":"sy"}],"mark":{"type":"line","fill":"#808080","stroke":"#000000","strokeWidth":1.5},"encoding":{"detail":{"field":"panel"},"order":{"field":"corner","type":"quantitative"}}},
{"data":{"name":"grid"},"transform":[{"filter":"datum.burden>0&&datum.burden<50000"},{"calculate":"datum.col/19","as":"u"},{"calculate":"(datum.row+0.5)/25","as":"v"},{"calculate":"datum.burden/50000","as":"w"},{"calculate":"1+0.1185*datum.u+0.1738*datum.v-0.0956*datum.w","as":"d"},{"calculate":"(515+480.4*datum.u-371.8*datum.v-49.3*datum.w)/datum.d","as":"sx"},{"calculate":"(887-100.7*datum.u-159*datum.v-614.5*datum.w)/datum.d","as":"sy"},{"calculate":"datum.col*100-datum.row","as":"ord"}],"mark":{"type":"line","stroke":"#000000","strokeWidth":1},"encoding":{"detail":{"field":"burden"},"order":{"field":"ord","type":"quantitative"}}},
{"data":{"name":"grid"},"transform":[{"filter":"datum.row==-0.5"},{"calculate":"datum.col/19","as":"u"},{"calculate":"(datum.row+0.5)/25","as":"v"},{"calculate":"datum.burden/50000","as":"w"},{"calculate":"1+0.1185*datum.u+0.1738*datum.v-0.0956*datum.w","as":"d"},{"calculate":"(515+480.4*datum.u-371.8*datum.v-49.3*datum.w)/datum.d","as":"sx"},{"calculate":"(887-100.7*datum.u-159*datum.v-614.5*datum.w)/datum.d","as":"sy"},{"calculate":"datum.sx-14","as":"sx2"}],"mark":{"type":"rule","stroke":"#404040","strokeWidth":1.2},"encoding":{"x2":{"field":"sx2"}}},
{"data":{"name":"sideTicks"},"transform":[{"calculate":"datum.col/19","as":"u"},{"calculate":"(datum.row+0.5)/25","as":"v"},{"calculate":"datum.burden/50000","as":"w"},{"calculate":"1+0.1185*datum.u+0.1738*datum.v-0.0956*datum.w","as":"d"},{"calculate":"(515+480.4*datum.u-371.8*datum.v-49.3*datum.w)/datum.d","as":"sx"},{"calculate":"(887-100.7*datum.u-159*datum.v-614.5*datum.w)/datum.d","as":"sy"},{"calculate":"datum.sx+13","as":"sx2"}],"mark":{"type":"rule","stroke":"#404040","strokeWidth":1.2},"encoding":{"x2":{"field":"sx2"}}},
{"data":{"name":"front"},"transform":[{"calculate":"datum.col/19","as":"u"},{"calculate":"(datum.row+0.5)/25","as":"v"},{"calculate":"datum.burden/50000","as":"w"},{"calculate":"1+0.1185*datum.u+0.1738*datum.v-0.0956*datum.w","as":"d"},{"calculate":"(515+480.4*datum.u-371.8*datum.v-49.3*datum.w)/datum.d","as":"sx"},{"calculate":"(887-100.7*datum.u-159*datum.v-614.5*datum.w)/datum.d","as":"sy"},{"calculate":"datum.sy-12","as":"sy2"}],"mark":{"type":"rule","stroke":"#404040","strokeWidth":1.2},"encoding":{"y2":{"field":"sy2"}}},
{"data":{"name":"grid"},"transform":[{"filter":"datum.row==-0.5"},{"calculate":"datum.col/19","as":"u"},{"calculate":"(datum.row+0.5)/25","as":"v"},{"calculate":"datum.burden/50000","as":"w"},{"calculate":"1+0.1185*datum.u+0.1738*datum.v-0.0956*datum.w","as":"d"},{"calculate":"(515+480.4*datum.u-371.8*datum.v-49.3*datum.w)/datum.d","as":"sx"},{"calculate":"(887-100.7*datum.u-159*datum.v-614.5*datum.w)/datum.d","as":"sy"},{"calculate":"'¥'+format(datum.burden,',')","as":"label"}],"mark":{"type":"text","align":"left","baseline":"middle","dx":5,"dy":3},"encoding":{"text":{"field":"label"}}},
{"data":{"name":"contours"},"transform":[{"calculate":"datum.burden||datum.iso","as":"burden"},{"calculate":"[datum.iso,datum.iso-2500]","as":"bands"},{"flatten":["bands"],"as":["band"]},{"filter":"datum.band>=0&&datum.band<=47500"},{"calculate":"datum.col/19","as":"u"},{"calculate":"(datum.row+0.5)/25","as":"v"},{"calculate":"datum.burden/50000","as":"w"},{"calculate":"1+0.1185*datum.u+0.1738*datum.v-0.0956*datum.w","as":"d"},{"calculate":"(515+480.4*datum.u-371.8*datum.v-49.3*datum.w)/datum.d","as":"sx"},{"calculate":"(887-100.7*datum.u-159*datum.v-614.5*datum.w)/datum.d","as":"sy"},{"calculate":"(datum.band==datum.iso?1:-1)*(datum.col*100+24-datum.row)","as":"ord"},{"calculate":"'¥'+format(datum.band,',')+'-¥'+format(datum.band+2500,',')","as":"range"}],"mark":{"type":"line","stroke":"#000000","strokeWidth":3,"strokeJoin":"round"},"encoding":{"fill":{"field":"range","type":"nominal","scale":{"domain":["¥47,500-¥50,000","¥45,000-¥47,500","¥42,500-¥45,000","¥40,000-¥42,500","¥37,500-¥40,000","¥35,000-¥37,500","¥32,500-¥35,000","¥30,000-¥32,500","¥27,500-¥30,000","¥25,000-¥27,500","¥22,500-¥25,000","¥20,000-¥22,500","¥17,500-¥20,000","¥15,000-¥17,500","¥12,500-¥15,000","¥10,000-¥12,500","¥7,500-¥10,000","¥5,000-¥7,500","¥2,500-¥5,000","¥0-¥2,500"],"range":["#FFFF99","#CCFFCC","#CCFFFF","#00CCFF","#0000FF","#008080","#800000","#800080","#00FFFF","#FFFF00","#FF00FF","#000080","#CCCCFF","#0066CC","#FF8080","#660066","#CCFFFF","#FFFFCC","#993366","#9999FF"]},"legend":{"title":null,"orient":"none","legendX":1432,"legendY":153,"symbolType":"square","symbolSize":361,"symbolStrokeColor":"#000000","symbolStrokeWidth":3,"labelFont":"Noto Sans CJK JP","labelFontSize":27,"labelColor":"#000000","labelOffset":0,"labelLimit":400,"rowPadding":7.7,"padding":7,"strokeColor":"#808080","fillColor":"white","values":["¥47,500-¥50,000","¥45,000-¥47,500","¥42,500-¥45,000","¥40,000-¥42,500","¥37,500-¥40,000","¥35,000-¥37,500","¥32,500-¥35,000","¥30,000-¥32,500","¥27,500-¥30,000","¥25,000-¥27,500","¥22,500-¥25,000","¥20,000-¥22,500","¥17,500-¥20,000","¥15,000-¥17,500","¥12,500-¥15,000","¥10,000-¥12,500","¥7,500-¥10,000","¥5,000-¥7,500","¥2,500-¥5,000","¥0-¥2,500"]}},"detail":{"field":"band"},"order":{"field":"ord","type":"quantitative"}}},
{"data":{"name":"contours"},"transform":[{"calculate":"datum.burden||datum.iso","as":"burden"},{"calculate":"[datum.iso,datum.iso-2500]","as":"bands"},{"flatten":["bands"],"as":["band"]},{"filter":"datum.band==50000"},{"calculate":"datum.col/19","as":"u"},{"calculate":"(datum.row+0.5)/25","as":"v"},{"calculate":"datum.burden/50000","as":"w"},{"calculate":"1+0.1185*datum.u+0.1738*datum.v-0.0956*datum.w","as":"d"},{"calculate":"(515+480.4*datum.u-371.8*datum.v-49.3*datum.w)/datum.d","as":"sx"},{"calculate":"(887-100.7*datum.u-159*datum.v-614.5*datum.w)/datum.d","as":"sy"},{"calculate":"(datum.band==datum.iso?1:-1)*(datum.col*100+24-datum.row)","as":"ord"}],"mark":{"type":"line","fill":"#99CCFF","stroke":"#000000","strokeWidth":3},"encoding":{"detail":{"field":"band"},"order":{"field":"ord","type":"quantitative"}}},
{"data":{"name":"mesh"},"transform":[{"calculate":"datum.col/19","as":"u"},{"calculate":"(datum.row+0.5)/25","as":"v"},{"calculate":"datum.burden/50000","as":"w"},{"calculate":"1+0.1185*datum.u+0.1738*datum.v-0.0956*datum.w","as":"d"},{"calculate":"(515+480.4*datum.u-371.8*datum.v-49.3*datum.w)/datum.d","as":"sx"},{"calculate":"(887-100.7*datum.u-159*datum.v-614.5*datum.w)/datum.d","as":"sy"}],"mark":{"type":"line","stroke":"#000000","strokeWidth":3},"encoding":{"detail":{"field":"col"},"order":{"field":"row","type":"quantitative"}}},
{"data":{"name":"mesh"},"transform":[{"calculate":"datum.col/19","as":"u"},{"calculate":"(datum.row+0.5)/25","as":"v"},{"calculate":"datum.burden/50000","as":"w"},{"calculate":"1+0.1185*datum.u+0.1738*datum.v-0.0956*datum.w","as":"d"},{"calculate":"(515+480.4*datum.u-371.8*datum.v-49.3*datum.w)/datum.d","as":"sx"},{"calculate":"(887-100.7*datum.u-159*datum.v-614.5*datum.w)/datum.d","as":"sy"}],"mark":{"type":"line","stroke":"#000000","strokeWidth":3},"encoding":{"detail":{"field":"row"},"order":{"field":"col","type":"quantitative"}}},
{"data":{"name":"front"},"transform":[{"calculate":"datum.col/19","as":"u"},{"calculate":"(datum.row+0.5)/25","as":"v"},{"calculate":"datum.burden/50000","as":"w"},{"calculate":"1+0.1185*datum.u+0.1738*datum.v-0.0956*datum.w","as":"d"},{"calculate":"(515+480.4*datum.u-371.8*datum.v-49.3*datum.w)/datum.d","as":"sx"},{"calculate":"(887-100.7*datum.u-159*datum.v-614.5*datum.w)/datum.d+15","as":"sy"}],"mark":{"type":"text","align":"right","baseline":"middle","angle":270},"encoding":{"text":{"field":"label"}}},
{"data":{"name":"side"},"transform":[{"calculate":"datum.col/19","as":"u"},{"calculate":"(datum.row+0.5)/25","as":"v"},{"calculate":"datum.burden/50000","as":"w"},{"calculate":"1+0.1185*datum.u+0.1738*datum.v-0.0956*datum.w","as":"d"},{"calculate":"(515+480.4*datum.u-371.8*datum.v-49.3*datum.w)/datum.d","as":"sx"},{"calculate":"(887-100.7*datum.u-159*datum.v-614.5*datum.w)/datum.d","as":"sy"}],"mark":{"type":"text","align":"right","baseline":"middle","dx":-36},"encoding":{"text":{"field":"label"}}},
{"data":{"values":[{"label":"購入枚数","col":0,"row":16,"burden":0}]},"transform":[{"calculate":"datum.col/19","as":"u"},{"calculate":"(datum.row+0.5)/25","as":"v"},{"calculate":"datum.burden/50000","as":"w"},{"calculate":"1+0.1185*datum.u+0.1738*datum.v-0.0956*datum.w","as":"d"},{"calculate":"(515+480.4*datum.u-371.8*datum.v-49.3*datum.w)/datum.d","as":"sx"},{"calculate":"(887-100.7*datum.u-159*datum.v-614.5*datum.w)/datum.d","as":"sy"}],"mark":{"type":"text","align":"center","baseline":"middle","dx":-100,"dy":112,"fontSize":29},"encoding":{"text":{"field":"label"}}},
{"data":{"values":[{"label":"参加人数","col":15,"row":-0.5,"burden":0}]},"transform":[{"calculate":"datum.col/19","as":"u"},{"calculate":"(datum.row+0.5)/25","as":"v"},{"calculate":"datum.burden/50000","as":"w"},{"calculate":"1+0.1185*datum.u+0.1738*datum.v-0.0956*datum.w","as":"d"},{"calculate":"(515+480.4*datum.u-371.8*datum.v-49.3*datum.w)/datum.d","as":"sx"},{"calculate":"(887-100.7*datum.u-159*datum.v-614.5*datum.w)/datum.d","as":"sy"}],"mark":{"type":"text","align":"center","baseline":"middle","dx":50,"dy":156,"fontSize":29},"encoding":{"text":{"field":"label"}}},
{"data":{"values":[{"label":"負担額","col":19,"row":-0.5,"burden":25000}]},"transform":[{"calculate":"datum.col/19","as":"u"},{"calculate":"(datum.row+0.5)/25","as":"v"},{"calculate":"datum.burden/50000","as":"w"},{"calculate":"1+0.1185*datum.u+0.1738*datum.v-0.0956*datum.w","as":"d"},{"calculate":"(515+480.4*datum.u-371.8*datum.v-49.3*datum.w)/datum.d","as":"sx"},{"calculate":"(887-100.7*datum.u-159*datum.v-614.5*datum.w)/datum.d","as":"sy"}],"mark":{"type":"text","align":"center","baseline":"middle","dx":177,"dy":1,"fontSize":29},"encoding":{"text":{"field":"label"}}}
]}
